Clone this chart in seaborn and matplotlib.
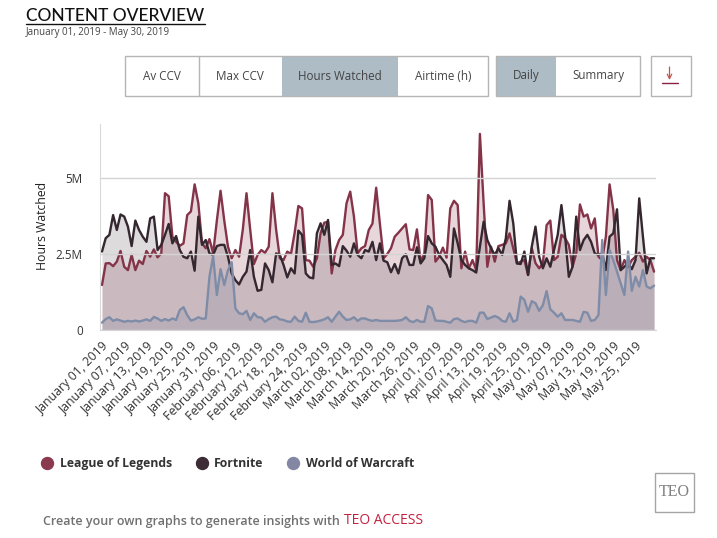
# plot.py - content overview chart

import matplotlib
matplotlib.use("Agg")
import matplotlib.pyplot as plt
import matplotlib.dates as mdates
from matplotlib.lines import Line2D
from matplotlib.patches import Rectangle
import pandas as pd
import seaborn as sns

# daily hours watched, in millions
league = [
    1.48, 2.19, 2.20, 2.10, 2.25, 2.60, 2.08, 1.97, 2.47, 1.97,
    2.28, 2.17, 2.60, 2.41, 2.65, 2.39, 2.52, 4.50, 4.40, 3.07,
    2.90, 2.77, 2.85, 3.78, 3.90, 4.79, 4.17, 2.85, 2.69, 2.99,
    2.52, 3.60, 4.58, 3.60, 2.74, 2.36, 2.63, 2.41, 3.30, 4.50,
    3.30, 2.17, 2.47, 2.63, 2.54, 2.74, 4.50, 3.30, 2.36, 2.30,
    2.58, 2.50, 3.20, 4.08, 4.00, 2.30, 2.28, 2.08, 2.36, 3.18,
    3.53, 3.56, 1.86, 2.63, 2.96, 3.13, 4.17, 4.55, 3.73, 2.52,
    2.69, 2.76, 3.29, 3.50, 4.68, 3.50, 2.36, 2.50, 2.69, 3.07,
    3.20, 3.34, 3.48, 2.65, 2.63, 3.31, 2.25, 2.52, 4.44, 4.28,
    2.25, 2.41, 2.71, 2.38, 4.00, 4.25, 4.11, 2.03, 2.58, 2.03,
    2.30, 1.97, 6.45, 4.17, 2.08, 2.74, 2.25, 2.76, 2.80, 2.85,
    3.18, 2.69, 2.19, 2.25, 2.30, 1.81, 2.69, 2.20, 2.03, 2.19,
    3.45, 3.60, 2.30, 2.41, 3.13, 3.02, 2.80, 2.08, 2.52, 4.13,
    3.73, 3.80, 3.34, 3.67, 2.41, 2.30, 3.07, 4.79, 3.95, 2.30,
    1.97, 2.30, 2.08, 2.30, 2.41, 2.54, 2.25, 2.41, 2.30, 1.92,
]
fortnite = [
    2.58, 3.02, 3.13, 3.78, 3.29, 3.80, 3.73, 3.40, 2.76, 3.60,
    3.29, 3.07, 2.90, 3.67, 3.73, 2.63, 2.80, 3.13, 3.49, 2.85,
    3.09, 2.63, 2.41, 2.36, 2.58, 1.95, 3.73, 2.80, 2.96, 2.52,
    2.47, 2.76, 2.80, 2.80, 2.41, 1.86, 1.64, 1.50, 1.75, 1.92,
    2.63, 1.75, 1.29, 1.32, 2.19, 1.97, 1.57, 2.52, 2.47, 2.14,
    1.73, 2.03, 1.86, 3.27, 3.13, 1.86, 1.73, 1.70, 3.18, 3.51,
    3.13, 3.62, 2.14, 2.19, 2.10, 2.76, 2.61, 2.41, 2.85, 2.47,
    2.36, 2.63, 2.58, 2.90, 2.30, 2.85, 2.28, 2.23, 1.90, 2.17,
    1.86, 2.36, 2.49, 2.14, 2.14, 2.72, 2.19, 2.36, 3.09, 2.85,
    2.74, 2.47, 2.30, 2.14, 1.75, 3.34, 2.85, 2.30, 2.14, 2.03,
    1.97, 1.89, 2.74, 3.56, 2.96, 2.69, 2.47, 2.69, 2.47, 3.02,
    4.25, 3.51, 2.19, 2.17, 2.58, 1.81, 2.74, 3.40, 2.41, 2.03,
    2.36, 2.08, 2.63, 3.13, 4.11, 3.07, 1.75, 2.08, 3.73, 2.63,
    2.96, 3.13, 2.90, 2.52, 2.47, 2.52, 1.97, 3.07, 3.18, 3.97,
    1.97, 2.08, 2.19, 2.00, 2.30, 4.33, 3.07, 1.86, 2.36, 2.36,
]
warcraft = [
    0.24, 0.36, 0.42, 0.30, 0.35, 0.31, 0.27, 0.30, 0.28, 0.31,
    0.28, 0.31, 0.35, 0.30, 0.43, 0.38, 0.30, 0.36, 0.31, 0.38,
    0.33, 0.66, 0.75, 0.49, 0.31, 0.35, 0.42, 0.37, 0.38, 1.75,
    2.43, 1.15, 2.00, 1.48, 1.97, 2.23, 0.71, 0.55, 0.52, 0.63,
    0.33, 0.55, 0.42, 0.41, 0.27, 0.36, 0.42, 0.44, 0.35, 0.33,
    0.28, 0.27, 0.44, 0.30, 0.27, 0.57, 0.27, 0.26, 0.28, 0.31,
    0.35, 0.42, 0.27, 0.44, 0.60, 0.44, 0.33, 0.35, 0.42, 0.30,
    0.38, 0.38, 0.33, 0.30, 0.33, 0.30, 0.30, 0.30, 0.30, 0.30,
    0.31, 0.33, 0.42, 0.30, 0.26, 0.33, 0.27, 0.27, 0.79, 0.71,
    0.31, 0.30, 0.30, 0.27, 0.24, 0.36, 0.38, 0.30, 0.26, 0.30,
    0.30, 0.24, 0.57, 0.57, 0.36, 0.41, 0.46, 0.41, 0.30, 0.27,
    0.55, 0.27, 0.33, 1.10, 0.99, 0.60, 0.95, 0.88, 0.63, 0.82,
    1.28, 0.68, 0.57, 0.44, 0.55, 0.33, 0.33, 0.33, 0.30, 0.27,
    0.60, 0.57, 0.30, 0.33, 0.49, 2.96, 1.15, 2.63, 2.30, 1.92,
    1.54, 1.15, 2.58, 1.29, 1.75, 1.43, 1.97, 1.43, 1.37, 1.46,
]

start_date = "2019-01-01"
series_names = ["League of Legends", "Fortnite", "World of Warcraft"]
series_colors = ["#8a3a4e", "#3d2b35", "#8487a3"]
line_colors = ["#843349", "#35272f", "#7f8ca8"]
fill_alphas = [0.20, 0.17, 0.22]
y_ticks = [0, 2.5, 5]
y_tick_labels = ["0", "2.5M", "5M"]
metric_buttons = ["Av CCV", "Max CCV", "Hours Watched", "Airtime (h)"]
view_buttons = ["Daily", "Summary"]

WIDTH, HEIGHT = 717, 538
FONT = "Open Sans"

# build the long dataframe for seaborn
dates = pd.date_range(start_date, periods=len(league), freq="D")
data = pd.DataFrame({"date": dates, series_names[0]: league,
                     series_names[1]: fortnite, series_names[2]: warcraft})
long_data = data.melt(id_vars="date", var_name="game", value_name="hours")

sns.set_style("white")
plt.rcParams["font.family"] = [FONT, "DejaVu Sans"]

fig = plt.figure(figsize=(WIDTH / 100, HEIGHT / 100), dpi=100)

# axes placed by pixel position of the original plot area
left, right, top, bottom = 99.5, 656, 124, 330
ax = fig.add_axes([left / WIDTH, 1 - bottom / HEIGHT,
                   (right - left) / WIDTH, (bottom - top) / HEIGHT])

# the filled areas first, then the lines on top
for name, color, alpha in zip(series_names, series_colors, fill_alphas):
    ax.fill_between(data["date"], data[name], 0, color=color, alpha=alpha, linewidth=0)

sns.lineplot(data=long_data, x="date", y="hours", hue="game", hue_order=series_names,
             palette=line_colors, linewidth=1.7, legend=False, errorbar=None, ax=ax)
for line in ax.get_lines():
    line.set_solid_joinstyle("round")

px_per_day = 3.705
ax.set_xlim(mdates.date2num(dates[0]) - (102 - left) / px_per_day,
            mdates.date2num(dates[0]) + (right - 102) / px_per_day)
ax.set_ylim(0, (bottom - top) / 30.4)

# x ticks every six days
tick_dates = dates[:145:6]
ax.set_xticks(tick_dates)
ax.set_xticklabels([d.strftime("%B %d, %Y") for d in tick_dates], rotation=45,
                   ha="right", rotation_mode="anchor", fontsize=8.9, color="#333333")
ax.set_yticks(y_ticks)
ax.set_yticklabels(y_tick_labels, fontsize=8.4, color="#333333")
ax.tick_params(axis="y", length=0, pad=12)
ax.tick_params(axis="x", length=0, pad=7)
ax.set_xlabel("")
ax.set_ylabel("")

ax.yaxis.grid(True, color="#d4d4d4", linewidth=1)
ax.xaxis.grid(False)
ax.set_axisbelow(False)
sns.despine(ax=ax, top=True, right=True)
ax.spines["left"].set_color("#d9d9d9")
ax.spines["bottom"].set_color("#d4d4d4")

# overlay in pixel coordinates for the page furniture around the chart
page = fig.add_axes([0, 0, 1, 1], zorder=5)
page.set_xlim(0, WIDTH)
page.set_ylim(HEIGHT, 0)
page.axis("off")
page.patch.set_alpha(0)

page.text(42, 226, "Hours Watched", rotation=90, ha="center", va="center",
          fontsize=8.8, color="#222222")

# header
page.text(26, 16, "CONTENT OVERVIEW", ha="left", va="center", fontsize=12.5,
          color="#111111", family=["Lato", "DejaVu Sans"], fontweight="medium")
page.plot([26, 205], [24, 24], color="#111111", linewidth=1)
page.text(26, 32, "January 01, 2019 - May 30, 2019", ha="left", va="center",
          fontsize=7, color="#444444")


def draw_button_group(x_edges, labels, active, y0=56, y1=96):
    """draw a row of toggle buttons, the active ones filled"""
    for i, label in enumerate(labels):
        x0, x1 = x_edges[i], x_edges[i + 1]
        face = "#aebcc6" if i in active else "white"
        page.add_patch(Rectangle((x0, y0), x1 - x0, y1 - y0, facecolor=face,
                                 edgecolor="none"))
        page.text((x0 + x1) / 2, (y0 + y1) / 2, label, ha="center", va="center",
                  fontsize=8.4, color="#444444")
    page.add_patch(Rectangle((x_edges[0], y0), x_edges[-1] - x_edges[0], y1 - y0,
                             facecolor="none", edgecolor="#b5b5b5", linewidth=1))


draw_button_group([124.5, 198.5, 281.5, 398, 488], metric_buttons, [2])
page.plot([198.5, 198.5], [56, 96], color="#b5b5b5", linewidth=1)
draw_button_group([496, 556, 640], view_buttons, [0])

# download button
page.add_patch(Rectangle((650.5, 56), 40, 40, facecolor="white", edgecolor="#b5b5b5", linewidth=1))
page.annotate("", xy=(669.5, 80), xytext=(669.5, 67),
              arrowprops=dict(arrowstyle="->", color="#c0564f", linewidth=0.9,
                              mutation_scale=8, shrinkA=0, shrinkB=0))
page.plot([662, 678], [83, 83], color="#8a1f4a", linewidth=1)

# legend
handles = [Line2D([], [], linestyle="none", marker="o", markersize=8.6, color=color)
           for color in series_colors]
legend = page.legend(handles, series_names, ncol=3, frameon=False, loc="center left",
                     bbox_to_anchor=(24 / WIDTH, 1 - 463.5 / HEIGHT),
                     bbox_transform=fig.transFigure, handletextpad=0.05,
                     columnspacing=1.4, prop={"size": 8.8, "weight": "bold"})
for text in legend.get_texts():
    text.set_color("#333333")

# footer
page.text(43, 521, "Create your own graphs to generate insights with ", ha="left",
          va="center", fontsize=9, color="#707070", fontweight="semibold")
page.text(344, 521, "TEO ACCESS", ha="left", va="center", fontsize=10, color="#c4203f",
          fontweight="normal")

# logo box
page.add_patch(Rectangle((654.5, 472.5), 39, 39, facecolor="white", edgecolor="#a5a5a5", linewidth=1))
page.text(674, 492, "TEO", ha="center", va="center", fontsize=11.5, color="#808080",
          family=["Liberation Serif", "DejaVu Serif"])

fig.savefig("out.png", dpi=100)
